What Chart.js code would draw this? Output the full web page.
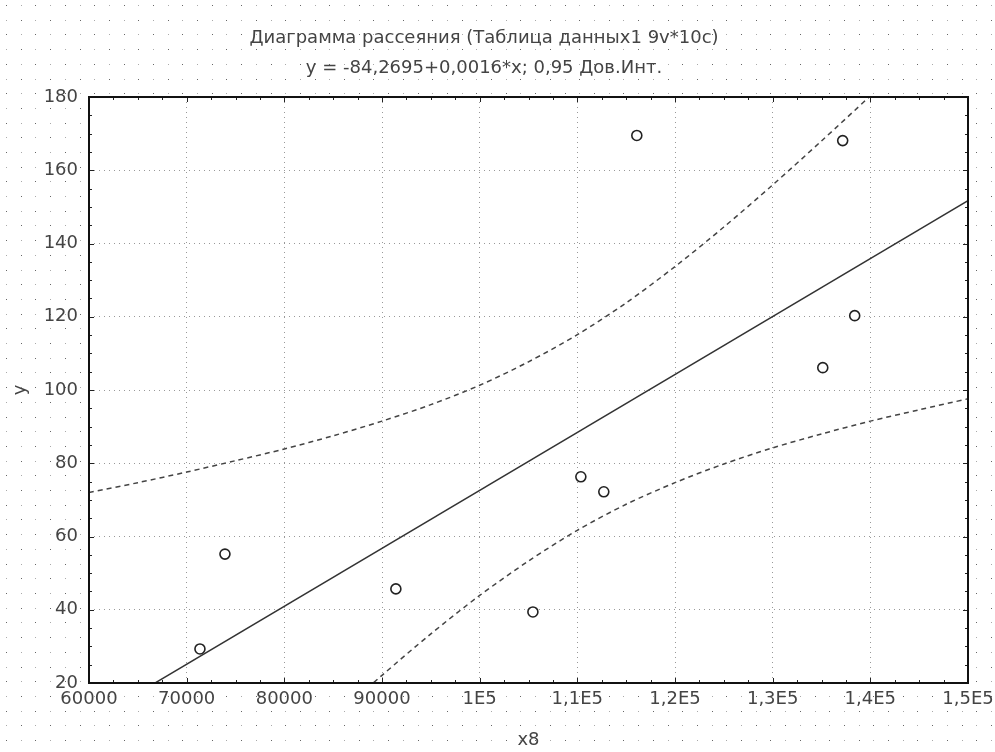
<!DOCTYPE html>
<html>
<head>
<meta charset="utf-8">
<script src="https://cdn.jsdelivr.net/npm/chart.js@4.4.0/dist/chart.umd.min.js"></script>
<style>
  html, body { margin: 0; padding: 0; background: #fff; }
</style>
</head>
<body>
<canvas id="scatterChart" width="995" height="752"></canvas>
<script>
// observed points (x8, y)
const xValues = [71360, 73920, 91420, 105450, 110360, 112710, 116090, 135130, 137170, 138400];
const yValues = [29.3, 55.2, 45.7, 39.4, 76.3, 72.2, 169.5, 106.1, 168.1, 120.3];

// fitted line, read at the plot edges
const fitX = [60000, 150000];
const fitY = [9.3, 151.7];

// 0,95 confidence band
const upperX = [60000, 65000, 70000, 75000, 80000, 85000, 90000, 95000, 100000, 105000, 110000, 115000, 120000, 125000, 130000, 135000, 140000];
const upperY = [72.0, 74.7, 77.6, 80.7, 83.9, 87.5, 91.5, 96.0, 101.3, 107.7, 115.1, 123.8, 133.7, 144.5, 156.0, 168.0, 180.3];
const lowerX = [85000, 90000, 95000, 100000, 105000, 110000, 115000, 120000, 125000, 130000, 135000, 140000, 145000, 150000];
const lowerY = [10.3, 22.1, 33.4, 43.9, 53.3, 61.7, 68.8, 74.7, 79.8, 84.2, 88.0, 91.5, 94.6, 97.6];

const xTickValues = [60000, 70000, 80000, 90000, 100000, 110000, 120000, 130000, 140000, 150000];
const xTickLabels = ['60000', '70000', '80000', '90000', '1E5', '1,1E5', '1,2E5', '1,3E5', '1,4E5', '1,5E5'];
const yTickLabels = ['20', '40', '60', '80', '100', '120', '140', '160', '180'];

const titleLines = ['Диаграмма рассеяния (Таблица данных1 9v*10c)', 'y = -84,2695+0,0016*x; 0,95 Дов.Инт.'];

const toXY = (xs, ys) => xs.map((x, i) => ({ x: x, y: ys[i] }));

const textColor = '#444';
const fontFamily = '"DejaVu Sans", Verdana, sans-serif';

// dotted window backdrop + box and small inner ticks
const backdrop = {
    id: 'backdrop',
    beforeDraw(chart) {
        const ctx = chart.ctx;
        const a = chart.chartArea;
        ctx.save();
        ctx.fillStyle = '#fff';
        ctx.fillRect(0, 0, chart.width, chart.height);
        let row = 0;
        for (let y = 5; y < chart.height; y += 14.7, row++) {
            let col = 0;
            for (let x = 6; x < chart.width; x += 14.7, col++) {
                ctx.fillStyle = (row + col) % 2 ? '#aaa' : '#666';
                ctx.fillRect(Math.round(x), Math.round(y), 1, 1);
            }
        }
        ctx.fillStyle = '#fff';
        ctx.fillRect(a.left, a.top, a.right - a.left, a.bottom - a.top);
        ctx.restore();
    },
    afterDatasetsDraw(chart) {
        const ctx = chart.ctx;
        const a = chart.chartArea;
        const xs = chart.scales.x;
        const ys = chart.scales.y;
        ctx.save();
        ctx.strokeStyle = '#222';
        ctx.lineWidth = 1;
        ctx.beginPath();
        for (let v = 60000; v <= 150000; v += 2500) {
            const px = Math.round(xs.getPixelForValue(v)) + 0.5;
            const len = v % 10000 === 0 ? 5 : 3;
            ctx.moveTo(px, a.bottom); ctx.lineTo(px, a.bottom - len);
            ctx.moveTo(px, a.top); ctx.lineTo(px, a.top + len);
        }
        for (let v = 20; v <= 180; v += 5) {
            const py = Math.round(ys.getPixelForValue(v)) + 0.5;
            const len = v % 20 === 0 ? 5 : 3;
            ctx.moveTo(a.left, py); ctx.lineTo(a.left + len, py);
            ctx.moveTo(a.right, py); ctx.lineTo(a.right - len, py);
        }
        ctx.stroke();
        ctx.lineWidth = 2;
        ctx.strokeStyle = '#111';
        ctx.strokeRect(a.left, a.top, a.right - a.left, a.bottom - a.top);
        ctx.restore();
    }
};

const ctx = document.getElementById('scatterChart').getContext('2d');
const scatterChart = new Chart(ctx, {
    type: 'scatter',
    data: {
        datasets: [
            {
                label: 'fit',
                type: 'line',
                data: toXY(fitX, fitY),
                borderColor: '#333',
                borderWidth: 1.5,
                pointRadius: 0,
                fill: false
            },
            {
                label: 'upper',
                type: 'line',
                data: toXY(upperX, upperY),
                borderColor: '#444',
                borderWidth: 1.5,
                borderDash: [5, 4],
                pointRadius: 0,
                tension: 0.3,
                fill: false
            },
            {
                label: 'lower',
                type: 'line',
                data: toXY(lowerX, lowerY),
                borderColor: '#444',
                borderWidth: 1.5,
                borderDash: [5, 4],
                pointRadius: 0,
                tension: 0.3,
                fill: false
            },
            {
                label: 'y',
                data: toXY(xValues, yValues),
                pointRadius: 5,
                pointBorderWidth: 1.6,
                pointBorderColor: '#222',
                pointBackgroundColor: '#fff'
            }
        ]
    },
    options: {
        responsive: false,
        animation: false,
        layout: { padding: { left: 0, right: 27, top: 0, bottom: 0 } },
        plugins: {
            legend: { display: false },
            tooltip: { enabled: false },
            title: {
                display: true,
                text: titleLines,
                color: textColor,
                font: { family: fontFamily, size: 18, weight: 'normal', lineHeight: 1.667 },
                padding: { top: 23, bottom: 14 }
            }
        },
        scales: {
            x: {
                type: 'linear',
                min: 60000,
                max: 150000,
                afterFit(scale) {
                    scale.height = 69;
                    scale.paddingLeft = 0;
                    scale.paddingRight = 0;
                },
                afterBuildTicks(scale) { scale.ticks = xTickValues.map(v => ({ value: v })); },
                ticks: {
                    color: textColor,
                    font: { family: fontFamily, size: 18 },
                    padding: 6,
                    maxRotation: 0,
                    callback: (v) => xTickLabels[xTickValues.indexOf(v)]
                },
                grid: { color: '#999', drawTicks: false, lineWidth: 1 },
                border: { display: false, dash: [1, 4] },
                title: {
                    display: true,
                    text: 'x8',
                    color: textColor,
                    font: { family: fontFamily, size: 18 },
                    padding: { top: 0, bottom: 1 }
                }
            },
            y: {
                type: 'linear',
                min: 20,
                max: 180,
                afterFit(scale) { scale.width = 89; },
                ticks: {
                    stepSize: 20,
                    color: textColor,
                    font: { family: fontFamily, size: 18 },
                    padding: 11,
                    callback: (v) => yTickLabels[(v - 20) / 20]
                },
                grid: { color: '#999', drawTicks: false, lineWidth: 1 },
                border: { display: false, dash: [1, 4] },
                title: {
                    display: true,
                    text: 'y',
                    color: textColor,
                    font: { family: fontFamily, size: 18 },
                    padding: { top: 10, bottom: 0 }
                }
            }
        }
    },
    plugins: [backdrop]
});
</script>
</body>
</html>
